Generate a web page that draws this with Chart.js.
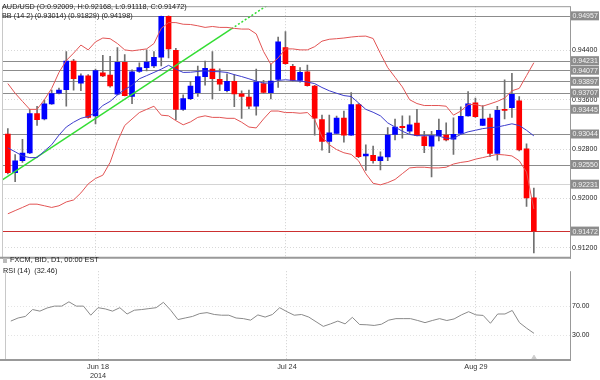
<!DOCTYPE html>
<html>
<head>
<meta charset="utf-8">
<script src="https://cdn.jsdelivr.net/npm/chart.js@4.4.1/dist/chart.umd.min.js"></script>
<style>
body{margin:0;background:#fff;}
#wrap{position:relative;width:600px;height:380px;overflow:hidden;font-family:"Liberation Sans",Arial,sans-serif;}
canvas{position:absolute;left:0;}
.t{position:absolute;font-size:7.3px;color:#222;white-space:nowrap;line-height:9px;}
.ic{display:inline-block;width:4px;height:5px;background:#bbb;margin-right:3px;vertical-align:-1px;}
</style>
</head>
<body>
<div id="wrap">
  <canvas id="cPrice" width="600" height="265" style="top:0"></canvas>
  <canvas id="cRsi" width="600" height="115" style="top:265px"></canvas>
  <div class="t" style="left:2px;top:2px">AUD/USD (O:0.92009, H:0.92168, L:0.91118, C:0.91472)</div>
  <div class="t" style="left:2px;top:11px">BB (14 2) (0.93014) (0.91829) (0.94198)</div>
  <div class="t" style="left:3px;top:255px"><span class="ic"></span>FXCM, BID, D1, 00:00 EST</div>
  <div class="t" style="left:3px;top:266px">RSI (14)&nbsp; (32.46)</div>
</div>
<script>
/* ---------- data (Jun 2 .. Sep 10 2014, daily) ---------- */
var tickIdx=[12,38,64];
var tickLbl=[['Jun 18','2014'],'Jul 24','Aug 29'];

var opens=[0.93042,0.92417,0.92611,0.92736,0.93376,0.93290,0.93532,0.93704,0.93760,0.94223,
0.93869,0.93985,0.93338,0.94036,0.94000,0.93688,0.94203,0.93651,0.94056,0.94119,
0.94145,0.94286,0.94950,0.94400,0.93443,0.93615,0.93713,0.93974,0.94094,0.93931,
0.93744,0.93896,0.93693,0.93641,0.93494,0.93860,0.93713,0.93927,0.94442,0.94141,
0.93911,0.94052,0.93818,0.93276,0.92923,0.93053,0.93302,0.93026,0.93521,0.92689,
0.92700,0.92611,0.92673,0.93037,0.93167,0.93089,0.93220,0.93001,0.92845,0.93017,
0.93026,0.92959,0.93053,0.93338,0.93547,0.93182,0.93302,0.92730,0.93443,0.93469,
0.93583,0.92803,0.92009];
var highs=[0.93131,0.92709,0.92959,0.93443,0.93490,0.93599,0.93755,0.93786,0.94380,0.94255,
0.94020,0.94005,0.94094,0.94317,0.94301,0.94442,0.94328,0.94083,0.94197,0.94406,
0.94380,0.94955,0.94957,0.94431,0.93677,0.93896,0.94145,0.94223,0.94380,0.94099,
0.94020,0.94005,0.93744,0.93755,0.94094,0.93911,0.94172,0.94614,0.94703,0.94172,
0.94119,0.94161,0.93833,0.93349,0.93349,0.93334,0.93416,0.93713,0.93537,0.92870,
0.92850,0.92756,0.93146,0.93287,0.93338,0.93338,0.93443,0.93089,0.93089,0.93287,
0.93224,0.93307,0.93485,0.93729,0.93626,0.93505,0.93365,0.93494,0.93922,0.94025,
0.93651,0.92886,0.92168];
var lows=[0.92397,0.92272,0.92584,0.92725,0.93182,0.93270,0.93521,0.93693,0.93494,0.93755,
0.93744,0.93302,0.93209,0.93974,0.93802,0.93677,0.93661,0.93537,0.94041,0.94067,
0.94119,0.94145,0.94275,0.93276,0.93427,0.93599,0.93651,0.93833,0.93610,0.93744,
0.93724,0.93485,0.93298,0.93454,0.93349,0.93704,0.93610,0.93797,0.94172,0.93900,
0.93885,0.93818,0.93026,0.92783,0.92740,0.93053,0.92912,0.93021,0.92662,0.92455,
0.92573,0.92464,0.92611,0.92948,0.92975,0.93053,0.93014,0.92740,0.92350,0.92932,
0.92932,0.92714,0.93053,0.93334,0.93313,0.93178,0.92678,0.92620,0.93287,0.93313,
0.92772,0.91871,0.91118];
var closes=[0.92417,0.92611,0.92736,0.93376,0.93276,0.93532,0.93697,0.93755,0.94223,0.93938,
0.93985,0.93313,0.94072,0.93985,0.93822,0.94203,0.93666,0.94052,0.94119,0.94208,
0.94286,0.94950,0.94422,0.93443,0.93619,0.93818,0.93974,0.94109,0.93938,0.93849,
0.93896,0.93693,0.93651,0.93494,0.93885,0.93719,0.93900,0.94536,0.94181,0.93911,
0.94041,0.93828,0.93302,0.92923,0.93064,0.93302,0.93026,0.93521,0.92678,0.92720,
0.92611,0.92673,0.93026,0.93157,0.93146,0.93193,0.93017,0.92854,0.93017,0.93104,
0.92948,0.93037,0.93329,0.93532,0.93323,0.93287,0.92730,0.93427,0.93427,0.93688,
0.92786,0.92011,0.91472];

var bbUpper=[0.93860,0.93704,0.93572,0.93443,0.93443,0.93599,0.93782,0.94041,0.94234,0.94353,
0.94484,0.94406,0.94536,0.94598,0.94587,0.94509,0.94406,0.94390,0.94406,0.94422,
0.94509,0.94754,0.94848,0.94848,0.94821,0.94817,0.94796,0.94770,0.94785,0.94770,
0.94770,0.94754,0.94743,0.94743,0.94665,0.94380,0.94172,0.94275,0.94422,0.94422,
0.94406,0.94406,0.94458,0.94547,0.94578,0.94587,0.94598,0.94614,0.94625,0.94629,
0.94590,0.94348,0.94119,0.93963,0.93807,0.93599,0.93537,0.93505,0.93505,0.93505,
0.93494,0.93349,0.93416,0.93521,0.93521,0.93494,0.93532,0.93572,0.93626,0.93744,
0.93782,0.93989,0.94198];
var bbMid=[0.92819,0.92756,0.92689,0.92662,0.92662,0.92767,0.92870,0.93026,0.93157,0.93235,
0.93298,0.93329,0.93391,0.93505,0.93572,0.93677,0.93766,0.93833,0.93938,0.93989,
0.94041,0.94094,0.94156,0.94094,0.94041,0.94044,0.94056,0.94067,0.94056,0.94052,
0.94041,0.94005,0.93974,0.93938,0.93900,0.93869,0.93869,0.93911,0.93922,0.93911,
0.93900,0.93885,0.93860,0.93797,0.93744,0.93704,0.93666,0.93651,0.93548,0.93443,
0.93396,0.93338,0.93224,0.93157,0.93089,0.93037,0.93017,0.93017,0.93017,0.93011,
0.92975,0.92975,0.93037,0.93079,0.93104,0.93131,0.93146,0.93157,0.93182,0.93209,
0.93182,0.93104,0.93014];
var bbLower=[0.91752,0.91804,0.91855,0.91908,0.91908,0.91882,0.91855,0.91882,0.91944,0.91976,
0.92090,0.92236,0.92324,0.92377,0.92584,0.92923,0.93182,0.93287,0.93391,0.93443,
0.93494,0.93349,0.93338,0.93260,0.93193,0.93240,0.93313,0.93338,0.93313,0.93313,
0.93298,0.93298,0.93235,0.93157,0.93142,0.93287,0.93416,0.93416,0.93391,0.93391,
0.93380,0.93391,0.93276,0.93001,0.92870,0.92792,0.92740,0.92714,0.92611,0.92402,
0.92246,0.92221,0.92257,0.92308,0.92402,0.92495,0.92506,0.92506,0.92495,0.92495,
0.92506,0.92558,0.92584,0.92600,0.92636,0.92662,0.92689,0.92714,0.92705,0.92689,
0.92611,0.92428,0.91829];

var rsi=[49.6,53.9,56.1,65.7,63.5,67.9,70.5,70.5,76.5,70.5,
70.5,57.8,68.3,66.6,63.5,68.3,59.5,64.8,65.7,67.0,
68.3,75.8,64.8,51.7,53.9,56.1,60.1,61.4,58.8,57.8,
57.8,53.9,53.0,50.9,58.2,55.2,58.8,68.3,62.7,57.8,
58.8,55.2,48.7,42.2,45.7,49.6,45.7,54.8,44.8,44.4,
43.5,45.2,50.9,53.0,53.0,53.0,50.4,47.4,50.4,53.0,
50.4,52.6,58.2,62.7,58.2,57.5,46.5,59.5,59.5,64.4,
47.4,39.5,32.46];

var majorLevels=[0.94957,0.94231,0.94077,0.93897,0.93707,0.93044,0.92550];
var minorLevels=[0.93445,0.92231];
var lastPrice=0.91472;
var trendX=[-1.14,30.6,35.4];
var trendY=[0.92272,0.94746,0.95119];
var priceTicks=[0.944,0.936,0.928,0.920,0.912];
var rsiTicks=[70,30];
var rsiMarker=[{x:72,y:-3.6}];

/* ---------- helpers ---------- */
var FONT={family:'"Liberation Sans", Arial, sans-serif',size:7};
var xMin=-0.8,xMax=76.95;
function pts(a){return a.map(function(v,i){return{x:i,y:v};});}
var candleCol=opens.map(function(o,i){return closes[i]<o?'#ff0000':'#0000ff';});

var frame={id:'frame',afterDraw:function(ch){
  var c=ch.ctx,a=ch.chartArea;c.save();
  c.strokeStyle='#c8c8c8';c.lineWidth=1;
  c.beginPath();c.moveTo(a.left+0.5,a.top);c.lineTo(a.left+0.5,a.bottom);c.stroke();
  c.strokeStyle='#999';
  c.beginPath();c.moveTo(a.right+0.5,a.top);c.lineTo(a.right+0.5,a.bottom);c.stroke();
  if(ch.options.plugins.frame.top){c.beginPath();c.moveTo(a.left,a.top+0.5);c.lineTo(a.right,a.top+0.5);c.stroke();}
  c.lineWidth=2;c.strokeStyle='#999';
  c.beginPath();c.moveTo(0,a.bottom-1);c.lineTo(a.right+1,a.bottom-1);c.stroke();
  c.restore();
}};

var levelsPlug={id:'levels',
  beforeDatasetsDraw:function(ch){
    var c=ch.ctx,a=ch.chartArea,y=ch.scales.y;c.save();c.lineWidth=1;
    function ln(v,col){var p=Math.round(y.getPixelForValue(v))+0.5;c.strokeStyle=col;c.beginPath();c.moveTo(a.left,p);c.lineTo(a.right,p);c.stroke();}
    minorLevels.forEach(function(v){ln(v,'#d4d4d4');});
    majorLevels.forEach(function(v){ln(v,'#8c8c8c');});
    ln(lastPrice,'#cc3030');
    c.restore();
  },
  afterDraw:function(ch){
    var c=ch.ctx,a=ch.chartArea,y=ch.scales.y;c.save();
    c.font='7px "Liberation Sans", Arial, sans-serif';c.textBaseline='middle';
    majorLevels.concat(minorLevels,[lastPrice]).forEach(function(v){
      var p=y.getPixelForValue(v);
      c.fillStyle='#8c8c8c';c.fillRect(a.right+1,p-4.5,28,9);
      c.fillStyle='#f4f4f4';c.fillText(v.toFixed(5),a.right+2.5,p+0.5);
    });
    c.restore();
  }};

/* ---------- price panel ---------- */
new Chart(document.getElementById('cPrice'),{
  type:'bar',
  data:{datasets:[
    {type:'line',data:pts(bbMid),borderColor:'#3c3ccc',borderWidth:1,pointRadius:0,order:0},
    {type:'line',data:pts(bbUpper),borderColor:'#e25454',borderWidth:1,pointRadius:0,order:0},
    {type:'line',data:pts(bbLower),borderColor:'#e25454',borderWidth:1,pointRadius:0,order:0},
    {type:'line',data:trendX.map(function(x,i){return{x:x,y:trendY[i]};}),borderColor:'#33dd33',borderWidth:1.5,pointRadius:0,order:0,
      segment:{borderDash:function(s){return s.p0DataIndex>=1?[2,2]:undefined;}}},
    {type:'bar',data:opens.map(function(o,i){return{x:i,y:[o,closes[i]]};}),backgroundColor:candleCol,barThickness:5,minBarLength:1,grouped:false,order:1},
    {type:'bar',data:lows.map(function(l,i){return{x:i,y:[l,highs[i]]};}),backgroundColor:'#707070',barThickness:1,grouped:false,order:2}
  ]},
  options:{
    responsive:false,animation:false,devicePixelRatio:1,
    layout:{padding:{left:2,top:3,right:0,bottom:0}},
    plugins:{legend:{display:false},tooltip:{enabled:false},frame:{top:true}},
    scales:{
      x:{type:'linear',min:xMin,max:xMax,offset:false,
        afterBuildTicks:function(s){s.ticks=tickIdx.map(function(v){return{value:v};});},
        afterFit:function(s){s.height=0;},
        ticks:{display:false},
        grid:{color:'#cfcfcf',drawTicks:false,offset:false},
        border:{display:false,dash:[1,2]}},
      y:{type:'linear',position:'right',min:0.910234,max:0.951132,
        afterBuildTicks:function(s){s.ticks=priceTicks.map(function(v){return{value:v};});},
        afterFit:function(s){s.width=30;},
        ticks:{font:FONT,color:'#222',padding:2,callback:function(v){return v.toFixed(5);}},
        grid:{color:'#d8d8d8',drawTicks:false},
        border:{display:false,dash:[1,2]}}
    }
  },
  plugins:[levelsPlug,frame]
});

/* ---------- RSI panel ---------- */
new Chart(document.getElementById('cRsi'),{
  type:'line',
  data:{datasets:[
    {data:pts(rsi),borderColor:'#8a8a8a',borderWidth:1,pointRadius:0},
    {data:rsiMarker,showLine:false,pointStyle:'triangle',pointRadius:4,backgroundColor:'#cccccc',borderColor:'#cccccc'}
  ]},
  options:{
    responsive:false,animation:false,devicePixelRatio:1,
    layout:{padding:{left:2,top:0,right:0,bottom:0}},
    plugins:{legend:{display:false},tooltip:{enabled:false},frame:{top:false}},
    scales:{
      x:{type:'linear',min:xMin,max:xMax,offset:false,
        afterBuildTicks:function(s){s.ticks=tickIdx.map(function(v){return{value:v};});},
        afterFit:function(s){s.height=19;},
        ticks:{font:{family:FONT.family,size:7.3},color:'#333',padding:2,maxRotation:0,autoSkip:false,
          callback:function(v,i){return tickLbl[i];}},
        grid:{color:'#cfcfcf',drawTicks:false},
        border:{display:false,dash:[1,2]}},
      y:{type:'linear',position:'right',min:-6.2,max:119.3,
        afterBuildTicks:function(s){s.ticks=rsiTicks.map(function(v){return{value:v};});},
        afterFit:function(s){s.width=30;},
        ticks:{font:FONT,color:'#222',padding:2,callback:function(v){return v.toFixed(2);}},
        grid:{color:'#e4e4e4',drawTicks:false},
        border:{display:false,dash:[1,2]}}
    }
  },
  plugins:[frame]
});
</script>
</body>
</html>
